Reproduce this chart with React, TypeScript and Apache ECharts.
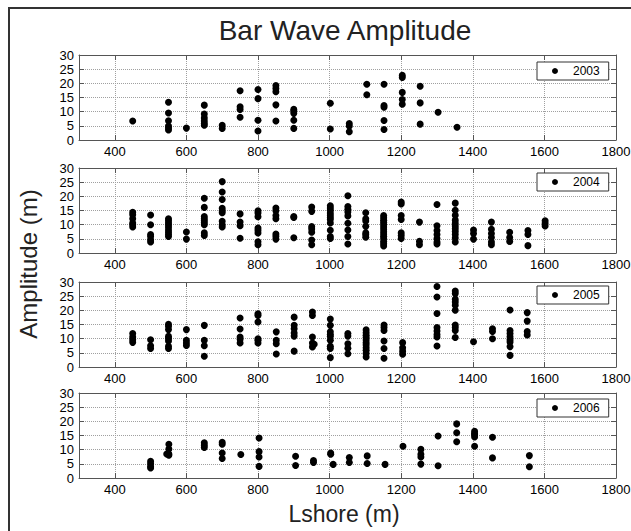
import React, { useEffect, useRef } from "react";
import * as echarts from "echarts";

// ---- Data ----
const years = ["2003", "2004", "2005", "2006"];
const xTickValues = [400, 600, 800, 1000, 1200, 1400, 1600, 1800];

const stations2003 = [450, 550, 600, 650, 700, 750, 800, 850, 900, 1002, 1055, 1104, 1152, 1203, 1253, 1303, 1356];
const amplitude2003 = [
  [6.7],
  [13.3, 9.5, 6.8, 4.9, 4.2, 3.5],
  [4.2],
  [12.3, 9.2, 7.8, 6.7, 5.8, 5.2],
  [5.2, 4.1],
  [17.4, 11.7, 10.8, 8.0],
  [17.8, 14.6, 7.0, 3.2],
  [19.2, 18.2, 17.0, 12.4, 6.7],
  [10.8, 10.2, 9.4, 7.0, 4.1],
  [13.0, 3.9],
  [5.8, 4.9, 2.9],
  [19.7, 16.0],
  [19.7, 12.2, 11.6, 6.9, 3.7],
  [22.8, 22.1, 16.8, 14.3, 12.6],
  [19.0, 13.1, 5.6],
  [9.8],
  [4.5],
];

const stations2004 = [450, 500, 550, 600, 650, 700, 750, 800, 850, 900, 950, 1002, 1051, 1101, 1151, 1200, 1251, 1300, 1351, 1402, 1452, 1503, 1554, 1602];
const amplitude2004 = [
  [14.4, 13.5, 12.1, 10.6, 10.0, 9.2],
  [13.4, 10.0, 6.5, 5.8, 4.7, 3.9],
  [12.1, 11.4, 10.6, 9.9, 9.1, 8.1, 7.3, 6.5, 5.8],
  [7.4, 4.9],
  [19.3, 16.1, 12.9, 12.1, 11.4, 10.7, 10.0, 7.1, 6.2],
  [25.2, 21.5, 18.9, 15.8, 14.9, 14.2, 11.2, 10.0, 9.2],
  [13.8, 10.9, 9.6, 5.2],
  [14.9, 14.1, 12.8, 8.8, 8.0, 7.1, 4.0, 2.9],
  [15.9, 14.9, 13.2, 12.1, 6.7, 5.9, 4.9],
  [12.9, 12.5, 5.4],
  [16.2, 14.7, 9.3, 8.5, 7.3, 4.6, 2.9],
  [16.7, 15.9, 15.1, 14.1, 13.3, 12.5, 11.8, 10.6, 8.0, 5.8, 5.1],
  [20.2, 16.4, 15.4, 14.5, 13.1, 10.5, 8.1, 5.8, 3.2],
  [14.2, 12.1, 11.3, 9.4, 7.1, 6.4, 5.6],
  [13.2, 12.4, 11.6, 10.8, 10.0, 9.2, 8.4, 7.5, 6.7, 5.9, 5.1, 4.1, 3.3, 2.5],
  [18.0, 17.3, 13.2, 11.8, 7.1, 6.2, 5.1],
  [10.9, 4.1, 2.9],
  [17.1, 9.6, 7.9, 6.5, 5.1, 3.9, 3.2],
  [17.6, 15.1, 13.3, 11.6, 10.5, 9.5, 8.6, 7.6, 6.5, 5.3, 3.9],
  [8.1, 6.9, 4.9],
  [10.9, 8.4, 6.9, 5.5, 3.9, 2.9],
  [7.3, 5.5, 4.1],
  [7.9, 6.5, 2.6],
  [11.4, 10.5, 9.5],
];

const stations2005 = [450, 500, 550, 600, 650, 750, 800, 851, 901, 952, 957, 1002, 1051, 1102, 1152, 1204, 1300, 1351, 1402, 1455, 1504, 1552];
const amplitude2005 = [
  [11.8, 10.6, 9.6, 8.7],
  [9.6, 7.5, 6.5],
  [15.1, 14.4, 13.2, 10.8, 10.1, 9.2, 7.3, 6.5],
  [13.2, 9.4, 8.5, 7.6],
  [14.7, 9.4, 7.5, 3.8],
  [17.3, 13.4, 10.6, 9.8, 8.5],
  [18.8, 18.2, 15.9, 10.0, 9.4, 8.5],
  [12.4, 9.4, 8.2, 4.6],
  [17.6, 14.7, 13.5, 12.0, 10.9, 5.6],
  [19.4, 18.2, 10.6, 8.5, 7.1],
  [8.0],
  [16.9, 14.7, 12.4, 11.5, 10.8, 9.4, 7.3, 6.5, 3.3],
  [11.8, 10.9, 8.2, 6.6, 4.7],
  [13.1, 12.1, 11.2, 10.4, 9.5, 8.6, 7.8, 6.8, 5.9, 4.8, 3.5],
  [14.8, 13.9, 12.9, 9.2, 6.5, 3.1],
  [8.6, 6.8, 5.6, 4.5],
  [28.4, 24.7, 18.9, 13.9, 12.7, 11.5, 10.6, 7.4],
  [26.8, 25.9, 23.9, 22.9, 21.8, 20.0, 14.8, 13.9, 12.9, 10.4],
  [8.9],
  [13.5, 12.5, 10.0],
  [20.1, 12.9, 11.8, 10.7, 9.6, 8.8, 7.2, 4.1],
  [19.2, 16.2, 12.5, 11.3],
];

const stations2006 = [500, 545, 551, 650, 700, 752, 803, 905, 955, 1003, 1010, 1055, 1105, 1155, 1205, 1255, 1303, 1355, 1405, 1455, 1558];
const amplitude2006 = [
  [5.9, 5.0, 4.1, 3.5],
  [8.5],
  [11.9, 10.2, 8.5, 8.0],
  [12.4, 11.6, 10.8],
  [12.6, 11.9, 8.8, 6.9],
  [8.3],
  [14.1, 9.3, 7.4, 4.1],
  [7.7, 4.4],
  [6.2, 5.5],
  [8.8, 8.4],
  [4.8],
  [7.2, 5.5],
  [7.8, 5.1],
  [4.8],
  [11.2],
  [10.1, 8.4, 7.4, 4.9],
  [14.8, 4.3],
  [19.1, 16.0, 12.8],
  [16.5, 15.7, 15.3, 14.5, 11.2],
  [14.4, 7.1],
  [7.9, 4.0],
];

const stationsByYear = [stations2003, stations2004, stations2005, stations2006];
const amplitudeByYear = [amplitude2003, amplitude2004, amplitude2005, amplitude2006];

// ---- Layout ----
const gridTops = [55, 168, 282, 393];
const legendTops = [62, 173, 286, 399];
const GRID_LEFT = 79;
const GRID_WIDTH = 537;
const GRID_HEIGHT = 85;
const FONT = "'Liberation Sans', Arial, Helvetica, sans-serif";
const AXIS_COLOR = "#555";
const GRID_COLOR = "#a0a0a0";

function toPairs(stations: number[], amps: number[][]): number[][] {
  const out: number[][] = [];
  stations.forEach((x, i) => {
    amps[i].forEach((y) => out.push([x, y]));
  });
  return out;
}

export default function App() {
  const ref = useRef<HTMLDivElement>(null);

  useEffect(() => {
    document.body.style.margin = "0";
    if (!ref.current) return;
    const chart = echarts.init(ref.current, null, { renderer: "svg" });

    const grid: any[] = [];
    const xAxis: any[] = [];
    const yAxis: any[] = [];
    const series: any[] = [];
    const legend: any[] = [];

    years.forEach((year, i) => {
      grid.push({
        left: GRID_LEFT,
        top: gridTops[i],
        width: GRID_WIDTH,
        height: GRID_HEIGHT,
        containLabel: false,
        outerBoundsMode: "none",
      });
      const baseX = {
        gridIndex: i,
        type: "value",
        min: 300,
        max: 1800,
        axisLine: { show: true, onZero: false, lineStyle: { color: AXIS_COLOR, width: 1 } },
        axisTick: {
          show: true,
          inside: true,
          length: 5,
          customValues: xTickValues,
          lineStyle: { color: AXIS_COLOR },
        },
      };
      xAxis.push({
        ...baseX,
        position: "bottom",
        axisLabel: {
          show: true,
          customValues: xTickValues,
          formatter: (v: number) => String(v),
          fontSize: 13,
          color: "#000",
          fontFamily: FONT,
          margin: 5,
          showMinLabel: true,
          showMaxLabel: true,
        },
        splitLine: { show: true, lineStyle: { color: GRID_COLOR, type: "dotted", width: 1 } },
      });
      xAxis.push({
        ...baseX,
        position: "top",
        axisLabel: { show: false },
        splitLine: { show: false },
      });
      const baseY = {
        gridIndex: i,
        type: "value",
        min: 0,
        max: 30,
        interval: 5,
        axisLine: { show: true, onZero: false, lineStyle: { color: AXIS_COLOR, width: 1 } },
        axisTick: { show: true, inside: true, length: 5, lineStyle: { color: AXIS_COLOR } },
      };
      yAxis.push({
        ...baseY,
        position: "left",
        axisLabel: {
          show: true,
          formatter: (v: number) => String(v),
          fontSize: 13,
          color: "#000",
          fontFamily: FONT,
          margin: 5,
          showMinLabel: true,
          showMaxLabel: true,
        },
        splitLine: { show: true, lineStyle: { color: GRID_COLOR, type: "dotted", width: 1 } },
      });
      yAxis.push({
        ...baseY,
        position: "right",
        axisLabel: { show: false },
        splitLine: { show: false },
      });
      series.push({
        name: year,
        type: "scatter",
        xAxisIndex: i * 2,
        yAxisIndex: i * 2,
        symbol: "circle",
        symbolSize: 7,
        itemStyle: { color: "#000", opacity: 1 },
        emphasis: { disabled: true },
        data: toPairs(stationsByYear[i], amplitudeByYear[i]),
        z: 3,
      });
      legend.push({
        data: [year],
        left: 537,
        top: legendTops[i],
        orient: "horizontal",
        icon: "circle",
        itemWidth: 6,
        itemHeight: 6,
        itemGap: 0,
        padding: [3, 9, 3, 15],
        borderColor: "#333",
        borderWidth: 1,
        borderRadius: 0,
        backgroundColor: "#fff",
        selectedMode: false,
        itemStyle: { color: "#000", opacity: 1 },
        textStyle: { fontSize: 12, color: "#000", fontFamily: FONT, padding: [0, 0, 0, 10] },
        z: 10,
      });
    });

    chart.setOption({
      animation: false,
      backgroundColor: "#fff",
      textStyle: { fontFamily: FONT },
      grid,
      xAxis,
      yAxis,
      series,
      legend,
      graphic: [
        {
          type: "polyline",
          shape: { points: [[9, 531], [9, 8], [631, 8]] },
          style: { stroke: "#333", lineWidth: 2, fill: "none" },
          silent: true,
        },
        {
          type: "text",
          x: 345,
          y: 30,
          style: {
            text: "Bar Wave Amplitude",
            fontSize: 28,
            fontFamily: FONT,
            fill: "#222",
            textAlign: "center",
            textVerticalAlign: "middle",
          },
        },
        {
          type: "text",
          x: 344,
          y: 514,
          style: {
            text: "Lshore (m)",
            fontSize: 23,
            fontFamily: FONT,
            fill: "#222",
            textAlign: "center",
            textVerticalAlign: "middle",
          },
        },
        {
          type: "text",
          x: 28,
          y: 264,
          rotation: Math.PI / 2,
          style: {
            text: "Amplitude (m)",
            fontSize: 24,
            fontFamily: FONT,
            fill: "#222",
            textAlign: "center",
            textVerticalAlign: "middle",
          },
        },
      ],
    });

    return () => chart.dispose();
  }, []);

  return <div ref={ref} style={{ width: 631, height: 531 }} />;
}
